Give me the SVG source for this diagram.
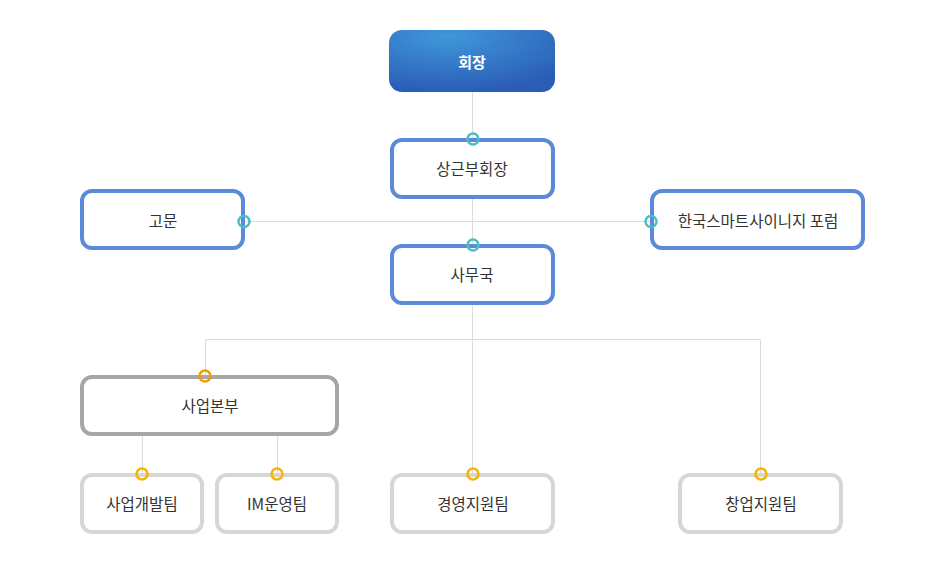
<svg xmlns="http://www.w3.org/2000/svg" width="944" height="561" viewBox="0 0 944 561">
<style>
text{font-family:"Noto Sans CJK KR","Noto Sans",sans-serif;font-size:15.5px;fill:#333;text-anchor:middle;dominant-baseline:central}
.blue{fill:#fff;stroke:#5b8ad9;stroke-width:4}
.gray{fill:#fff;stroke:#a3a6ab;stroke-width:4}
.light{fill:#fff;stroke:#d6d6d6;stroke-width:4}
.line{stroke:#dcdcdc;stroke-width:1;fill:none}
.teal{fill:none;stroke:#4dbdc4;stroke-width:2.5}
.orange{fill:none;stroke:#f39c00;stroke-width:2.5}
.yellow{fill:none;stroke:#f5b400;stroke-width:2.5}
</style>
<defs>
<radialGradient id="g1" cx="0.35" cy="0.1" r="0.9">
<stop offset="0" stop-color="#3f97da"/>
<stop offset="1" stop-color="#2b5db6"/>
</radialGradient>
</defs>
<g id="connectors">
<path class="line" d="M472.5 92V474M244 221.5H651M205.5 376V339.5H760.5V474M142.5 435V474M277.5 435V474"/>
</g>
<g id="n-chair"><rect x="389" y="30" width="166" height="62" rx="13" fill="url(#g1)"/><text x="472" y="61" style="fill:#fff;font-weight:bold;font-size:15px">회장</text></g>
<g id="n-vice"><rect class="blue" x="392" y="140" width="161" height="57" rx="10"/><text x="472" y="168">상근부회장</text><circle class="teal" cx="473" cy="139" r="5.5"/></g>
<g id="n-advisor"><rect class="blue" x="82" y="191" width="161" height="57" rx="10"/><text x="163" y="220">고문</text><circle class="teal" cx="244" cy="221.5" r="5.5"/></g>
<g id="n-forum"><rect class="blue" x="652" y="191" width="211" height="57" rx="10"/><text x="758" y="220">한국스마트사이니지 포럼</text><circle class="teal" cx="651" cy="221.5" r="5.5"/></g>
<g id="n-office"><rect class="blue" x="392" y="246" width="161" height="57" rx="10"/><text x="472" y="274">사무국</text><circle class="teal" cx="473" cy="245" r="5.5"/></g>
<g id="n-biz"><rect class="gray" x="82" y="377" width="255" height="57" rx="10"/><text x="210" y="405">사업본부</text><circle class="orange" cx="205" cy="376" r="5.5"/></g>
<g id="n-dev"><rect class="light" x="82" y="475" width="120" height="57" rx="10"/><text x="142" y="503">사업개발팀</text><circle class="yellow" cx="142" cy="474" r="5.5"/></g>
<g id="n-im"><rect class="light" x="217" y="475" width="120" height="57" rx="10"/><text x="277" y="503">IM운영팀</text><circle class="yellow" cx="277" cy="474" r="5.5"/></g>
<g id="n-mgmt"><rect class="light" x="392" y="475" width="161" height="57" rx="10"/><text x="473" y="503">경영지원팀</text><circle class="yellow" cx="473" cy="474" r="5.5"/></g>
<g id="n-startup"><rect class="light" x="680" y="475" width="161" height="57" rx="10"/><text x="761" y="503">창업지원팀</text><circle class="yellow" cx="761" cy="474" r="5.5"/></g>
</svg>
